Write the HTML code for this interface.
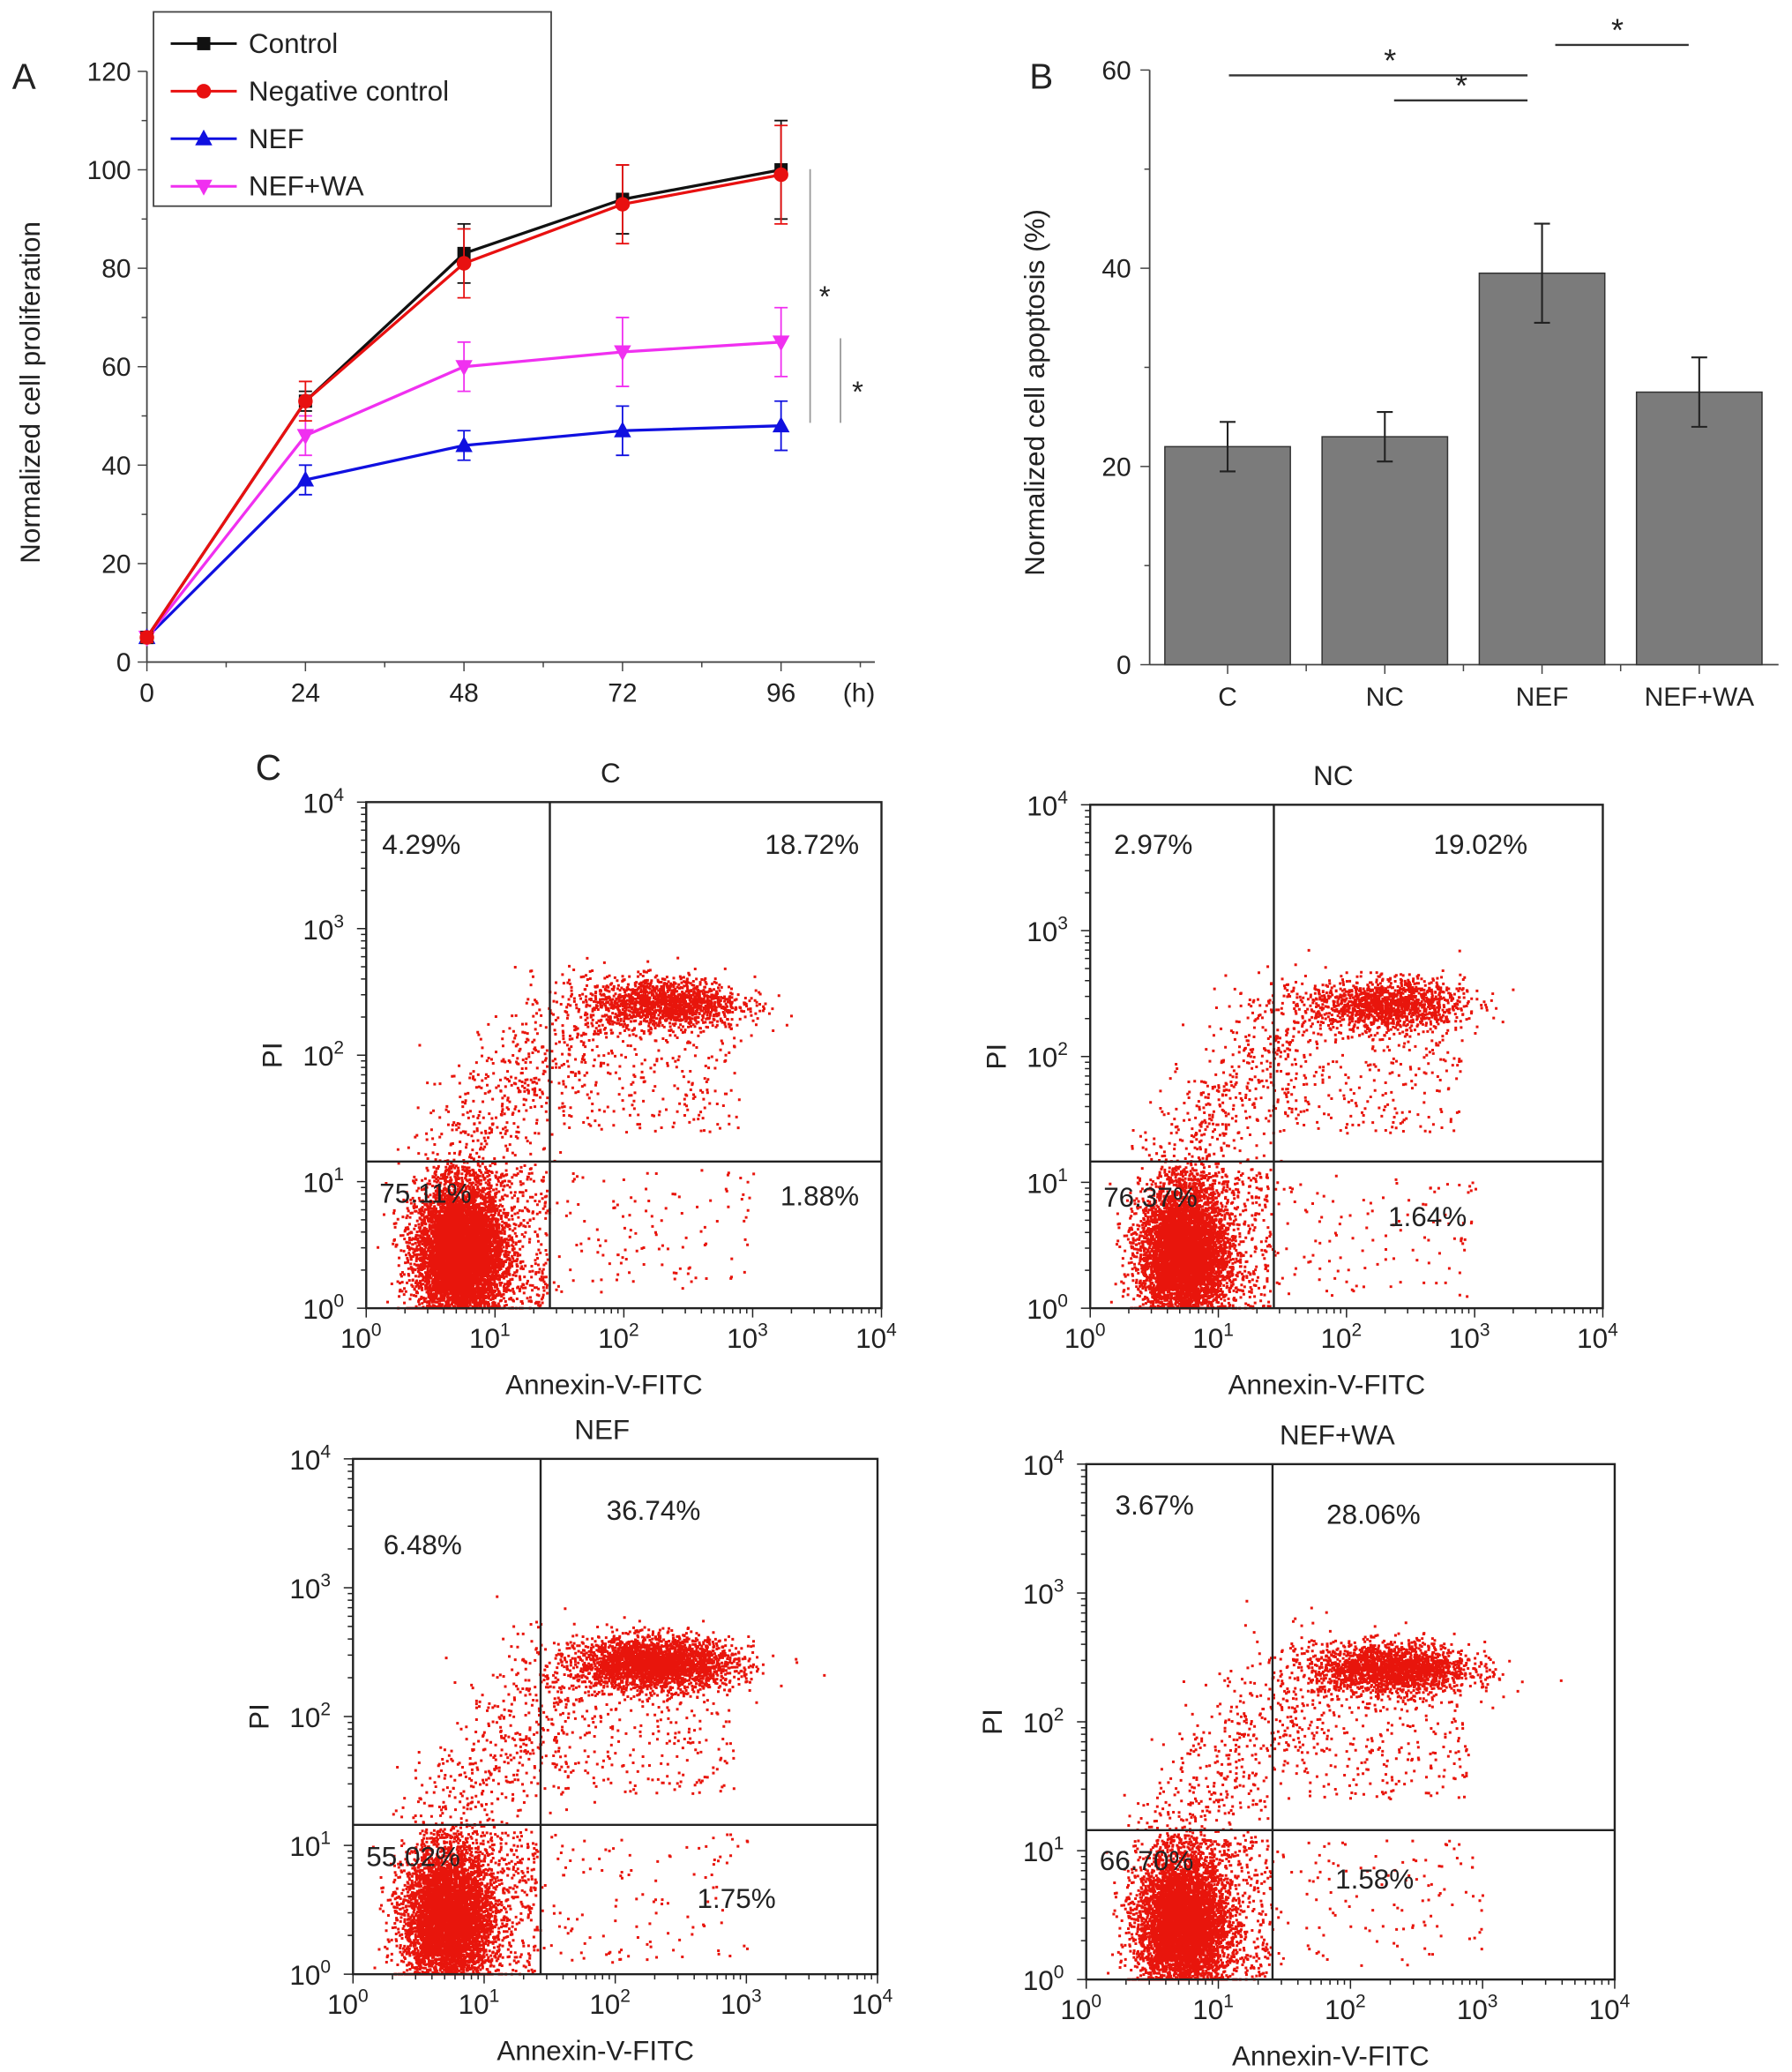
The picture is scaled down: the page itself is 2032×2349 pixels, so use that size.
<!DOCTYPE html>
<html><head><meta charset="utf-8"><style>
html,body{margin:0;padding:0;background:#fff}
svg{display:block;font-family:"Liberation Sans",Arial,sans-serif}
</style></head><body>
<svg id="fig" width="2032" height="2349" viewBox="0 0 1356 1568" xmlns="http://www.w3.org/2000/svg">
<g id="pa"></g>
<g id="pb"></g>
<g id="pc"></g>
</svg>
<script>
// ---- Panel A data ----
const hours = [0, 24, 48, 72, 96];
const ctrlVals = [5, 53, 83, 94, 100];
const ctrlErr = [1, 2, 6, 7, 10];
const ncVals = [5, 53, 81, 93, 99];
const ncErr = [1, 4, 7, 8, 10];
const nefVals = [5, 37, 44, 47, 48];
const nefErr = [1, 3, 3, 5, 5];
const waVals = [5, 46, 60, 63, 65];
const waErr = [1, 4, 5, 7, 7];
const yTicksA = [0, 20, 40, 60, 80, 100, 120];
const xTicksA = [0, 24, 48, 72, 96];
// ---- Panel B data ----
const groupsB = ["C", "NC", "NEF", "NEF+WA"];
const apopVals = [22, 23, 39.5, 27.5];
const apopErr = [2.5, 2.5, 5, 3.5];
const yTicksB = [0, 20, 40, 60];
// ---- Panel C data ----
const flowTitles = ["C", "NC", "NEF", "NEF+WA"];
const flowUL = ["4.29%", "2.97%", "6.48%", "3.67%"];
const flowUR = ["18.72%", "19.02%", "36.74%", "28.06%"];
const flowLL = ["75.11%", "76.37%", "55.02%", "66.70%"];
const flowLR = ["1.88%", "1.64%", "1.75%", "1.58%"];

const NS = "http://www.w3.org/2000/svg";
function mk(parent, tag, attrs, text) {
  const e = document.createElementNS(NS, tag);
  for (const k in attrs) e.setAttribute(k, attrs[k]);
  if (text !== undefined) e.textContent = text;
  parent.appendChild(e);
  return e;
}
function tx(parent, x, y, s, size, anchor, name) {
  const t = mk(parent, "text", {x: x, y: y, "font-size": size, "text-anchor": anchor || "middle", fill: "#222"}, s);
  
  
  return t;
}

// ===== Panel A =====
const pa = document.getElementById("pa");
const ax = h => 111 + h * 5;
const ay = v => 501 - v * 3.725;
tx(pa, 18, 67, "A", 27, "middle", "panel-a-letter");
mk(pa, "line", {x1: 111, y1: 54, x2: 111, y2: 501, stroke: "#444", "stroke-width": 1.2});
mk(pa, "line", {x1: 111, y1: 501, x2: 662, y2: 501, stroke: "#444", "stroke-width": 1.2});
yTicksA.forEach(v => {
  mk(pa, "line", {x1: 104, y1: ay(v), x2: 111, y2: ay(v), stroke: "#444"});
  if (v < 120) mk(pa, "line", {x1: 107, y1: ay(v + 10), x2: 111, y2: ay(v + 10), stroke: "#444"});
  tx(pa, 99, ay(v) + 7, String(v), 20, "end", "y-tick-label");
});
xTicksA.forEach(h => {
  mk(pa, "line", {x1: ax(h), y1: 501, x2: ax(h), y2: 508, stroke: "#444"});
  mk(pa, "line", {x1: ax(h + 12), y1: 501, x2: ax(h + 12), y2: 505, stroke: "#444"});
  tx(pa, ax(h), 531, String(h), 20, "middle", "x-tick-label");
});
tx(pa, 650, 531, "(h)", 20, "middle", "x-unit-label");
const yt = tx(pa, 30, 297, "Normalized cell proliferation", 21, "middle", "y-axis-title");
yt.setAttribute("transform", "rotate(-90 30 297)");
const seriesA = [
  {name: "nef", vals: nefVals, err: nefErr, col: "#1010e0", m: "tri"},
  {name: "nef-wa", vals: waVals, err: waErr, col: "#f030f0", m: "itri"},
  {name: "control", vals: ctrlVals, err: ctrlErr, col: "#111", m: "sq"},
  {name: "negative-control", vals: ncVals, err: ncErr, col: "#e81010", m: "circ"}
];
function marker(g, m, x, y, col) {
  let e;
  if (m === "sq") e = mk(g, "rect", {x: x - 5, y: y - 5, width: 10, height: 10, fill: col});
  else if (m === "circ") e = mk(g, "circle", {cx: x, cy: y, r: 5.5, fill: col});
  else if (m === "tri") e = mk(g, "polygon", {points: `${x},${y - 7} ${x - 6.5},${y + 5} ${x + 6.5},${y + 5}`, fill: col});
  else e = mk(g, "polygon", {points: `${x},${y + 7} ${x - 6.5},${y - 5} ${x + 6.5},${y - 5}`, fill: col});
  return e;
}
seriesA.forEach(s => {
  const g = mk(pa, "g", {});
  
  
  const pts = hours.map((h, i) => ax(h) + "," + ay(s.vals[i])).join(" ");
  mk(g, "polyline", {points: pts, fill: "none", stroke: s.col, "stroke-width": 2.2});
  hours.forEach((h, i) => {
    const x = ax(h), y1 = ay(s.vals[i] - s.err[i]), y2 = ay(s.vals[i] + s.err[i]);
    const eb = mk(g, "path", {d: `M${x},${y1}V${y2}M${x - 5},${y1}H${x + 5}M${x - 5},${y2}H${x + 5}`, stroke: s.col, "stroke-width": 1.2, fill: "none"});
    
    
    const mm = marker(g, s.m, x, ay(s.vals[i]), s.col);
    
    
  });
});
mk(pa, "line", {x1: 613, y1: 128, x2: 613, y2: 320, stroke: "#999", "stroke-width": 1.2});
mk(pa, "line", {x1: 636, y1: 256, x2: 636, y2: 320, stroke: "#999", "stroke-width": 1.2});
tx(pa, 624, 232, "*", 22, "middle", "sig-star");
tx(pa, 649, 304, "*", 22, "middle", "sig-star");
const leg = mk(pa, "g", {});


mk(leg, "rect", {x: 116, y: 9, width: 301, height: 147, fill: "#fff", stroke: "#444", "stroke-width": 1.2});
const legItems = [["Control", "#111", "sq"], ["Negative control", "#e81010", "circ"], ["NEF", "#1010e0", "tri"], ["NEF+WA", "#f030f0", "itri"]];
legItems.forEach((it, i) => {
  const y = 33 + i * 36;
  const le = mk(leg, "g", {});
  
  
  mk(le, "line", {x1: 129, y1: y, x2: 179, y2: y, stroke: it[1], "stroke-width": 2});
  marker(le, it[2], 154, y, it[1]);
  tx(le, 188, y + 7, it[0], 21, "start", "legend-label");
});

// ===== Panel B =====
const pb = document.getElementById("pb");
const by = v => 503 - v * 7.5;
const bx = i => 929 + i * 119;
tx(pb, 788, 67, "B", 27, "middle", "panel-b-letter");
mk(pb, "line", {x1: 870, y1: 53, x2: 870, y2: 503, stroke: "#444", "stroke-width": 1.2});
mk(pb, "line", {x1: 870, y1: 503, x2: 1346, y2: 503, stroke: "#444", "stroke-width": 1.2});
yTicksB.forEach(v => {
  mk(pb, "line", {x1: 863, y1: by(v), x2: 870, y2: by(v), stroke: "#444"});
  if (v < 60) mk(pb, "line", {x1: 866, y1: by(v + 10), x2: 870, y2: by(v + 10), stroke: "#444"});
  tx(pb, 856, by(v) + 7, String(v), 20, "end", "y-tick-label");
});
const yb = tx(pb, 790, 297, "Normalized cell apoptosis (%)", 21, "middle", "y-axis-title");
yb.setAttribute("transform", "rotate(-90 790 297)");
groupsB.forEach((g, i) => {
  const r = mk(pb, "rect", {x: bx(i) - 47.5, y: by(apopVals[i]), width: 95, height: by(0) - by(apopVals[i]), fill: "#7b7b7b", stroke: "#333", "stroke-width": 1});
  
  
  const x = bx(i), y1 = by(apopVals[i] - apopErr[i]), y2 = by(apopVals[i] + apopErr[i]);
  const eb = mk(pb, "path", {d: `M${x},${y1}V${y2}M${x - 6},${y1}H${x + 6}M${x - 6},${y2}H${x + 6}`, stroke: "#222", "stroke-width": 1.4, fill: "none"});
  
  
  mk(pb, "line", {x1: x, y1: 503, x2: x, y2: 510, stroke: "#444"});
  if (i < 3) mk(pb, "line", {x1: x + 59.5, y1: 503, x2: x + 59.5, y2: 508, stroke: "#444"});
  tx(pb, x, 534, g, 20, "middle", "x-tick-label");
});
[[930, 1156, 57, 1052], [1055, 1156, 76, 1106], [1177, 1278, 34, 1224]].forEach(b => {
  mk(pb, "line", {x1: b[0], y1: b[2], x2: b[1], y2: b[2], stroke: "#333", "stroke-width": 1.6});
  tx(pb, b[3], b[2] - 3, "*", 24, "middle", "sig-star");
});

// ===== Panel C =====
const pc = document.getElementById("pc");
tx(pc, 203, 590, "C", 27, "middle", "panel-c-letter");
const boxes = [[277, 607, 667, 990, 416, 879], [825, 609, 1213, 990, 964, 879], [267, 1104, 664, 1494, 409, 1381], [822, 1108, 1222, 1498, 963, 1385]];
const liveN = [6500, 6500, 5000, 5800];
const urN = [1500, 1400, 2800, 2000];
// label layout per plot: [ulX, ulY, urX(end), urY, llY, lrX(end), lrY]
const labPos = [[289, 646, 650, 646, 910, 650, 912], [843, 646, 1156, 646, 913, 1110, 928], [290, 1176, 530, 1150, 1412, 587, 1444], [844, 1146, 1075, 1153, 1415, 1070, 1429]];
let seed = 12345;
function rnd() { seed = (seed * 1103515245 + 12345) % 2147483648; return seed / 2147483648; }
function gauss() { let u = rnd() || 1e-6, v = rnd(); return Math.sqrt(-2 * Math.log(u)) * Math.cos(6.2832 * v); }
boxes.forEach((b, k) => {
  const [x0, y0, x1, y1, qx, qy] = b;
  const g = mk(pc, "g", {});
  
  
  const fx = l => x0 + l / 4 * (x1 - x0);
  const fy = l => y1 - l / 4 * (y1 - y0);
  let d = "";
  const dot = (lx, ly) => {
    lx = Math.max(0.02, Math.min(3.98, lx)); ly = Math.max(0.01, Math.min(3.98, ly));
    d += `M${fx(lx).toFixed(1)},${fy(ly).toFixed(1)}h2v2h-2z`;
  };
  for (let i = 0; i < liveN[k]; i++) dot(0.72 + gauss() * 0.17, 0.45 + gauss() * 0.26);
  for (let i = 0; i < 600; i++) dot(0.5 + rnd() * 0.9, 0.02 + rnd() * 1.1);
  for (let i = 0; i < urN[k]; i++) dot(2.3 + gauss() * 0.3, 2.42 + gauss() * 0.1);
  for (let i = 0; i < 500; i++) { const t = rnd(); dot(0.7 + t * 0.9 + gauss() * 0.22, 1.1 + t * 1.3 + gauss() * 0.22); }
  for (let i = 0; i < 250; i++) dot(1.5 + rnd() * 1.4, 1.4 + rnd() * 0.9);
  for (let i = 0; i < 120; i++) dot(1.4 + rnd() * 1.6, 0.1 + rnd() * 1.0);
  const p = mk(g, "path", {d: d, fill: "#e8150c"});
  
  
  mk(g, "rect", {x: x0, y: y0, width: x1 - x0, height: y1 - y0, fill: "none", stroke: "#222", "stroke-width": 1.6});
  mk(g, "line", {x1: qx, y1: y0, x2: qx, y2: y1, stroke: "#222", "stroke-width": 1.6});
  mk(g, "line", {x1: x0, y1: qy, x2: x1, y2: qy, stroke: "#222", "stroke-width": 1.6});
  let td = "";
  for (let dec = 0; dec < 4; dec++) for (let m = 1; m <= 10; m++) {
    const l = dec + Math.log10(m); const len = (m === 1 || m === 10) ? 7 : 4;
    td += `M${fx(l)},${y1}v${len}M${x0},${fy(l)}h-${len}`;
  }
  mk(g, "path", {d: td, stroke: "#222", "stroke-width": 1, fill: "none"});
  for (let e = 0; e <= 4; e++) {
    const t1 = mk(g, "text", {x: fx(e) - 4, y: y1 + 30, "font-size": 21, "text-anchor": "middle", fill: "#222"});
    
    
    t1.innerHTML = `10<tspan dy="-9" font-size="14">${e}</tspan>`;
    const t2 = mk(g, "text", {x: x0 - 48, y: fy(e) + 8, "font-size": 21, "text-anchor": "start", fill: "#222"});
    
    
    t2.innerHTML = `10<tspan dy="-9" font-size="14">${e}</tspan>`;
  }
  tx(g, (x0 + x1) / 2 - 10, y0 - 15, flowTitles[k], 21, "middle", "plot-title");
  tx(g, (x0 + x1) / 2 - 15, y1 + 65, "Annexin-V-FITC", 21, "middle", "x-axis-title");
  const pl = tx(g, x0 - 64, (y0 + y1) / 2, "PI", 21, "middle", "y-axis-title");
  pl.setAttribute("transform", `rotate(-90 ${x0 - 64} ${(y0 + y1) / 2})`);
  const L = labPos[k];
  tx(g, L[0], L[1], flowUL[k], 21, "start", "quadrant-ul-pct");
  tx(g, L[2], L[3], flowUR[k], 21, "end", "quadrant-ur-pct");
  tx(g, x0 + 10, L[4], flowLL[k], 21, "start", "quadrant-ll-pct");
  tx(g, L[5], L[6], flowLR[k], 21, "end", "quadrant-lr-pct");
});
</script>
</body></html>
